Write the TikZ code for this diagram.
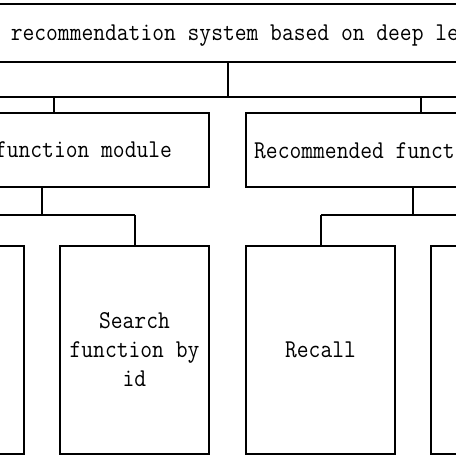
\documentclass[tikz,border=0pt]{standalone}
\usepackage{fontspec}
\usepackage{graphicx}
\newcommand{\tallt}[1]{\scalebox{1}[1.12]{#1}}
\begin{document}
\begin{tikzpicture}[x=1pt,y=-1pt,
  box/.style={draw,line width=1.4pt,rectangle,inner sep=0pt,font=\ttfamily\fontsize{22.9}{29}\selectfont,align=center},
  wire/.style={line width=1.4pt},
  lbl/.style={inner sep=0pt,font=\ttfamily\fontsize{22.9}{29}\selectfont}]
\useasboundingbox (0,0) rectangle (456,456);
\clip (0,0) rectangle (456,456);
% boxes
\node[box,minimum width=760pt,minimum height=58pt] (top) at (228,33) {};
\node[lbl,anchor=base west] (toptxt) at (-13,40) {\tallt{t recommendation system based on deep learning}};
\node[box,minimum width=251pt,minimum height=74pt] (midL) at (83.5,150) {\tallt{function module}};
\node[box,minimum width=251pt,minimum height=74pt] (midR) at (371.5,150) {};
\node[lbl,anchor=base west] (midRtxt) at (254,158) {\tallt{Recommended function module}};
\node[box,minimum width=149pt,minimum height=208pt] (botA) at (-50.5,350) {};
\node[box,minimum width=149pt,minimum height=208pt] (botB) at (134.5,350) {\tallt{Search}\\\tallt{function by}\\\tallt{id}};
\node[box,minimum width=149pt,minimum height=208pt] (botC) at (320.5,350) {\tallt{Recall}};
\node[box,minimum width=149pt,minimum height=208pt] (botD) at (505.5,350) {};
% junctions
\coordinate (j0) at (228,97);
\coordinate (jL) at (54,97);
\coordinate (jR) at (421,97);
\coordinate (busLa) at (-60,215);
\coordinate (busLb) at (135,215);
\coordinate (busRa) at (321,215);
\coordinate (busRb) at (520,215);
\coordinate (jLm) at (42,215);
\coordinate (jRm) at (413,215);
% connectors
\draw[wire] (top.south) -- (j0);
\draw[wire] ([xshift=-80pt]jL) -- ([xshift=80pt]jR);
\draw[wire] (jL) -- (jL |- midL.north);
\draw[wire] (jR) -- (jR |- midR.north);
\draw[wire] (jLm |- midL.south) -- (jLm);
\draw[wire] (busLa) -- (busLb);
\draw[wire] (busLb) -- (busLb |- botB.north);
\draw[wire] (jRm |- midR.south) -- (jRm);
\draw[wire] (busRa) -- (busRb);
\draw[wire] (busRa) -- (busRa |- botC.north);
\end{tikzpicture}
\end{document}
